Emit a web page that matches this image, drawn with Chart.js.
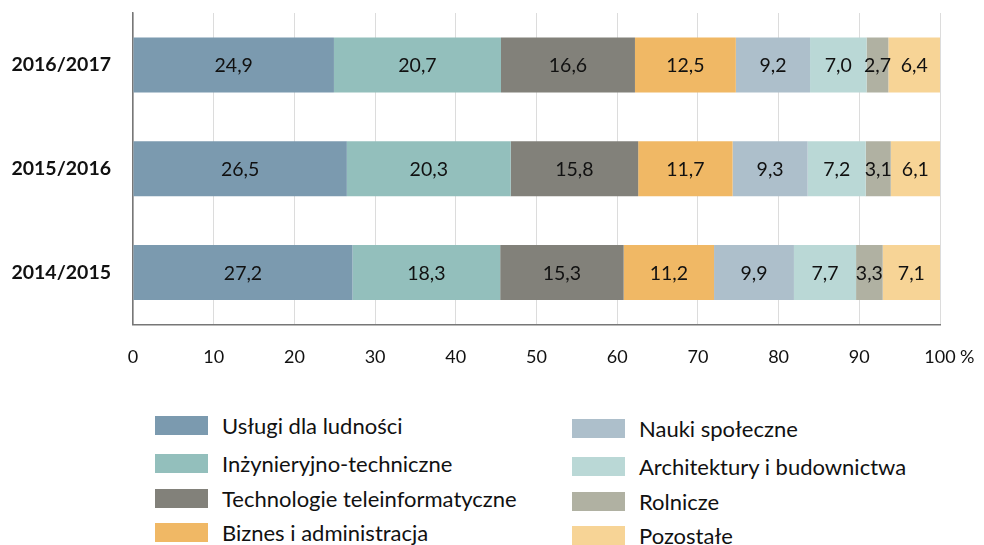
<!DOCTYPE html>
<html>
<head>
<meta charset="utf-8">
<script src="https://cdn.jsdelivr.net/npm/chart.js@4/dist/chart.umd.min.js"></script>
<style>
  body { margin: 0; background: #fff; overflow: hidden; }
  #wrap { position: relative; width: 984px; height: 545px; overflow: hidden; }
  #chartBox { position: absolute; left: 0; top: 0; width: 984px; height: 400px; }
  .legend { position: absolute; font-family: Lato, "Open Sans", sans-serif; font-size: 22px; color: #111; }
  .item { position: absolute; white-space: nowrap; }
  .sw { position: absolute; width: 53px; height: 19px; }
  .lab { position: absolute; left: 67px; top: -4px; }
</style>
</head>
<body>
<div id="wrap">
  <div id="chartBox"><canvas id="result"></canvas></div>
  <div id="legend" class="legend"></div>
</div>
<script>
const years = ['2016/2017', '2015/2016', '2014/2015'];
const fields = ['Usługi dla ludności', 'Inżynieryjno-techniczne', 'Technologie teleinformatyczne',
    'Biznes i administracja', 'Nauki społeczne', 'Architektury i budownictwa', 'Rolnicze', 'Pozostałe'];
const colors = ['#7b9aaf', '#93bfbc', '#82817a', '#f0b865', '#adbfcb', '#bad8d6', '#b0b1a2', '#f7d496'];

const uslugi = [24.9, 26.5, 27.2];
const inzynieryjne = [20.7, 20.3, 18.3];
const technologie = [16.6, 15.8, 15.3];
const biznes = [12.5, 11.7, 11.2];
const nauki = [9.2, 9.3, 9.9];
const architektura = [7.0, 7.2, 7.7];
const rolnicze = [2.7, 3.1, 3.3];
const pozostale = [6.4, 6.1, 7.1];
const series = [uslugi, inzynieryjne, technologie, biznes, nauki, architektura, rolnicze, pozostale];

const font = 'Lato, "Open Sans", sans-serif';

// labels inside bars, polish decimal comma
const barLabels = {
    id: 'barLabels',
    afterDatasetsDraw(chart) {
        const c = chart.ctx;
        c.save();
        c.font = '19.5px ' + font;
        c.fillStyle = '#111';
        c.textAlign = 'center';
        c.textBaseline = 'middle';
        chart.data.datasets.forEach((ds, i) => {
            chart.getDatasetMeta(i).data.forEach((bar, j) => {
                const p = bar.getCenterPoint();
                c.fillText(ds.data[j].toFixed(1).replace('.', ','), p.x, p.y + 1);
            });
        });
        c.restore();
    }
};

// "%" after the last tick
const percentSign = {
    id: 'percentSign',
    afterDraw(chart) {
        const x = chart.scales.x;
        const c = chart.ctx;
        c.save();
        c.font = '18px ' + font;
        c.fillStyle = '#111';
        c.textBaseline = 'middle';
        c.fillText('%', x.getPixelForValue(100) + 20, x.top + 33);
        c.restore();
    }
};

const ctx = document.getElementById('result').getContext('2d');
new Chart(ctx, {
    type: 'bar',
    data: {
        labels: years,
        datasets: series.map((d, i) => ({
            label: fields[i],
            data: d,
            backgroundColor: colors[i],
            borderWidth: 0,
            barPercentage: 0.53,
            categoryPercentage: 1
        }))
    },
    options: {
        indexAxis: 'y',
        responsive: true,
        maintainAspectRatio: false,
        animation: false,
        layout: { padding: { top: 13, right: 44, left: 0, bottom: 10 } },
        plugins: {
            legend: { display: false },
            tooltip: { enabled: false }
        },
        scales: {
            x: {
                stacked: true,
                min: 0,
                max: 100,
                ticks: {
                    stepSize: 10,
                    padding: 22,
                    color: '#111',
                    font: { family: font, size: 18 }
                },
                grid: { color: '#dcdcdc', drawTicks: false },
                border: { color: '#777', width: 1.5 }
            },
            y: {
                stacked: true,
                afterFit(scale) {
                    scale.width = 133;
                    scale.paddingTop = 0;
                    scale.paddingBottom = 0;
                },
                ticks: {
                    padding: 22,
                    color: '#111',
                    font: { family: font, size: 19.5, weight: 'bold' }
                },
                grid: { display: false, drawTicks: false },
                border: { color: '#777', width: 1.5 }
            }
        }
    },
    plugins: [barLabels, percentSign]
});

// two-column legend, filled column by column
const legend = document.getElementById('legend');
const colX = [155, 572];
const rowY = [416, 454, 489, 523];
fields.forEach((name, i) => {
    const col = Math.floor(i / 4), row = i % 4;
    const item = document.createElement('div');
    item.className = 'item';
    item.style.left = colX[col] + 'px';
    item.style.top = (rowY[row] + (col ? 3 : 0)) + 'px';
    item.innerHTML = '<div class="sw" style="background:' + colors[i] + '"></div><div class="lab">' + name + '</div>';
    legend.appendChild(item);
});
</script>
</body>
</html>
